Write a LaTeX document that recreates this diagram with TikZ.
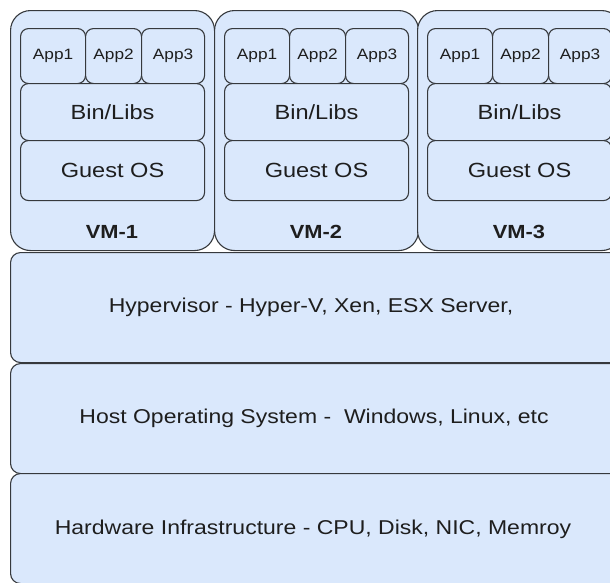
\documentclass[tikz,border=0pt]{standalone}
\usepackage{fontspec}
\setmainfont{Liberation Sans}[FakeStretch=1.15]
\definecolor{boxfill}{HTML}{DAE8FC}
\definecolor{boxline}{HTML}{36393D}
\definecolor{txt}{HTML}{1E1E1E}
\begin{document}
\begin{tikzpicture}[x=1pt, y=-1pt, line join=round, text=txt,
  vmbox/.style={draw=boxline, fill=boxfill, line width=1.1pt, rounded corners=20pt, anchor=north west, inner sep=0pt, minimum width=204pt, minimum height=240pt},
  part/.style={draw=boxline, fill=boxfill, line width=1.1pt, rounded corners=8pt, anchor=north west, inner sep=0pt, font=\fontsize{20.5}{24}\selectfont},
  appbox/.style={part, minimum height=55pt, font=\fontsize{15}{18}\selectfont},
  layer/.style={draw=boxline, fill=boxfill, line width=1.1pt, rounded corners=10pt, anchor=north west, inner sep=0pt, minimum width=612pt, minimum height=110pt},
  layertext/.style={font=\fontsize{20}{24}\selectfont}]
 \useasboundingbox (0,0) rectangle (610,582);
 \clip (0,0) rectangle (610,582);
 % virtual machines
 \foreach \i/\x in {1/10, 2/214, 3/417} {
  \node[vmbox] (vm\i) at (\x,10) {};
  \node[appbox, minimum width=65pt] (app\i a) at (\x+10,28) {App1};
  \node[appbox, minimum width=56pt] (app\i b) at (\x+75,28) {App2};
  \node[appbox, minimum width=63pt] (app\i c) at (\x+131,28) {App3};
  \node[part, minimum width=184pt, minimum height=57pt] (bin\i) at (\x+10,83) {Bin/Libs};
  \node[part, minimum width=184pt, minimum height=60pt] (os\i) at (\x+10,140) {Guest OS};
  \node[font=\fontsize{19}{22}\selectfont\bfseries] (vmlbl\i) at (\x+102,232) {VM-\i};
 }
 % layers below
 \node[layer] (hyp) at (10,252) {};
 \node[layer] (host) at (10,363) {};
 \node[layer] (hw) at (10,473) {};
 \node[layertext] (hyplbl) at (311,307) {Hypervisor - Hyper-V, Xen, ESX Server,};
 \node[layertext] (hostlbl) at (314,418) {Host Operating System -\ \ Windows, Linux, etc};
 \node[layertext] (hwlbl) at (313,529) {Hardware Infrastructure - CPU, Disk, NIC, Memroy};
\end{tikzpicture}
\end{document}
